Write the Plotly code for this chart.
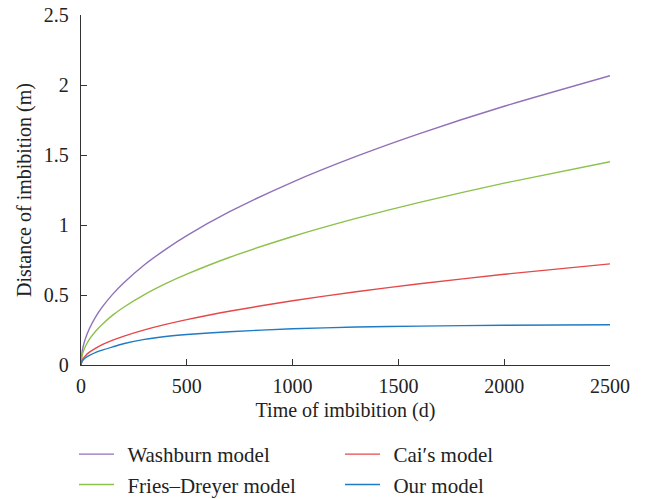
import plotly.graph_objects as go

time_d = [0, 5, 10, 20, 40, 70, 100, 150, 200, 300, 400, 500, 700, 1000, 1300, 1600, 2000, 2500]
washburn = [0, 0.092, 0.131, 0.185, 0.261, 0.346, 0.413, 0.506, 0.584, 0.716, 0.826, 0.924, 1.093, 1.307, 1.490, 1.653, 1.848, 2.066]
fries_dreyer = [0, 0.065, 0.092, 0.130, 0.184, 0.243, 0.290, 0.356, 0.411, 0.503, 0.581, 0.649, 0.768, 0.918, 1.047, 1.162, 1.299, 1.452]
cai = [0, 0.032, 0.046, 0.065, 0.092, 0.121, 0.145, 0.178, 0.205, 0.251, 0.290, 0.324, 0.384, 0.459, 0.523, 0.580, 0.648, 0.722]
our_model = [0, 0.025, 0.035, 0.050, 0.068, 0.090, 0.106, 0.130, 0.152, 0.183, 0.204, 0.218, 0.238, 0.259, 0.271, 0.278, 0.284, 0.288]

series_names = ["Washburn model", "Fries\u2013Dreyer model", "Cai\u2032s model", "Our model"]
series_data = [washburn, fries_dreyer, cai, our_model]
series_colors = ["#9170b8", "#8cc14a", "#e5484a", "#1f7bc4"]
series_legend = ["legend", "legend", "legend2", "legend2"]

x_title = "Time of imbibition (d)"
y_title = "Distance of imbibition (m)"

FONT = "Liberation Serif"
FS = 20

fig = go.Figure()
for name, vals, col, lg in zip(series_names, series_data, series_colors, series_legend):
    fig.add_trace(go.Scatter(x=time_d, y=vals, mode="lines", name="\u2009\u2009" + name,
                             legend=lg,
                             line=dict(color=col, width=1.4, shape="spline", smoothing=0.6)))

axis_common = dict(showgrid=False, zeroline=False, showline=True, linecolor="#333333",
                   linewidth=1.3, ticks="inside", ticklen=6, tickwidth=1.2, tickcolor="#333333",
                   tickfont=dict(family=FONT, size=FS, color="#222222"),
                   mirror=False, automargin=False)

legend_common = dict(orientation="v", xref="container", yref="container",
                     xanchor="left", y=(499 - 434) / 499, yanchor="top",
                     traceorder="normal", itemwidth=35, tracegroupgap=0,
                     font=dict(family=FONT, size=21, color="#222222"), bgcolor="rgba(0,0,0,0)")

fig.update_layout(
    width=655, height=499,
    margin=dict(l=81, r=45, t=15, b=134, autoexpand=False),
    paper_bgcolor="white", plot_bgcolor="white",
    font=dict(family=FONT, size=FS, color="#222222"),
    xaxis=dict(range=[0, 2500], tickvals=[0, 500, 1000, 1500, 2000, 2500],
               ticktext=["0", "500", "1000", "1500", "2000", "2500"],
               ticklabelstandoff=3,
               title=dict(text=x_title, font=dict(family=FONT, size=FS), standoff=6),
               **axis_common),
    yaxis=dict(range=[0, 2.5], tickvals=[0, 0.5, 1, 1.5, 2, 2.5],
               ticktext=["0", "0.5", "1", "1.5", "2", "2.5"],
               ticklabelstandoff=7,
               **axis_common),
    legend=dict(x=74 / 655, **legend_common),
    legend2=dict(x=340 / 655, **legend_common),
    showlegend=True,
)

fig.add_annotation(text=y_title, textangle=-90, xref="paper", yref="paper",
                   x=(24 - 81) / 529, y=0.5, xanchor="center", yanchor="middle",
                   showarrow=False, font=dict(family=FONT, size=FS, color="#222222"))

fig.write_html("out.html")
